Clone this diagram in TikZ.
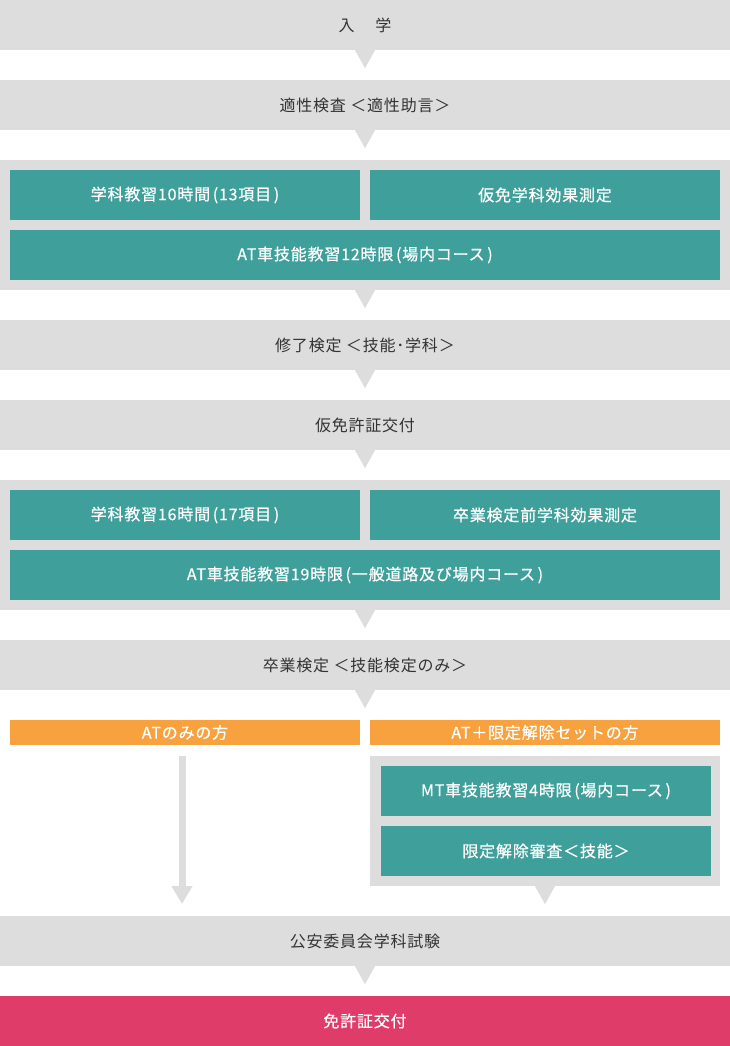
\documentclass[tikz,border=0pt]{standalone}
\usepackage{fontspec}
\setmainfont{Noto Sans CJK JP}[LetterSpace=5]
\newfontfamily\jpheavy{Noto Sans CJK JP}[LetterSpace=5,FakeBold=0.6]
\usetikzlibrary{arrows.meta}
\definecolor{bandgray}{HTML}{DDDDDD}
\definecolor{textgray}{HTML}{333333}
\definecolor{lessonteal}{HTML}{3F9F9B}
\definecolor{routeorange}{HTML}{F8A13F}
\definecolor{licensepink}{HTML}{E03C6A}
\tikzset{
  band/.style={rectangle, fill=bandgray, minimum width=730pt, minimum height=50pt, inner sep=0pt, text=textgray, font=\fontsize{16pt}{19pt}\selectfont},
  groupbox/.style={rectangle, fill=bandgray, inner sep=0pt},
  lesson/.style={rectangle, fill=lessonteal, minimum height=50pt, inner sep=0pt, text=white, font=\jpheavy\fontsize{16pt}{19pt}\selectfont},
  route/.style={rectangle, fill=routeorange, minimum width=350pt, minimum height=25pt, inner sep=0pt, text=white, font=\jpheavy\fontsize{16pt}{19pt}\selectfont},
  license/.style={band, fill=licensepink, text=white, font=\jpheavy\fontsize{16pt}{19pt}\selectfont},
  drop/.style={draw=bandgray, line width=7pt, -{Triangle[width=20pt,length=18pt]}}
}
\newcommand\downtip[1]{\fill[bandgray] ([xshift=-10pt]#1.south) -- ([xshift=10pt]#1.south) -- ([yshift=-18pt]#1.south) -- cycle;}
\begin{document}
\begin{tikzpicture}[x=1pt, y=-1pt]
\useasboundingbox (0,0) rectangle (730,1046);
\node[band] (enroll) at (365,25){入\hspace{21pt}学};
\downtip{enroll}
\node[band] (aptitude) at (365,105){適性検査 ＜適性助言＞};
\downtip{aptitude}
\node[groupbox, minimum width=730pt, minimum height=130pt] (stage1) at (365,225){};
\node[lesson, minimum width=350pt] (theory1) at (185,195){学科教習10時間\,(13項目\,)};
\node[lesson, minimum width=350pt] (test1) at (545,195){仮免学科効果測定};
\node[lesson, minimum width=710pt] (drive1) at (365,255){AT車技能教習12時限\,(場内コース\,)};
\downtip{stage1}
\node[band] (midterm) at (365,345){修了検定 ＜技能･学科＞};
\downtip{midterm}
\node[band] (permit) at (365,425){仮免許証交付};
\downtip{permit}
\node[groupbox, minimum width=730pt, minimum height=130pt] (stage2) at (365,545){};
\node[lesson, minimum width=350pt] (theory2) at (185,515){学科教習16時間\,(17項目\,)};
\node[lesson, minimum width=350pt] (test2) at (545,515){卒業検定前学科効果測定};
\node[lesson, minimum width=710pt] (drive2) at (365,575){AT車技能教習19時限\,(一般道路及び場内コース\,)};
\downtip{stage2}
\node[band] (final) at (365,665){卒業検定 ＜技能検定のみ＞};
\downtip{final}
\node[route] (atonly) at (185,732.5){ATのみの方};
\node[route] (atmt) at (545,732.5){AT＋限定解除セットの方};
\coordinate (atstart) at (182,756);
\coordinate (atdrop) at (182,904);
\draw[drop] (atstart) -- (atdrop);
\node[groupbox, minimum width=350pt, minimum height=130pt] (stage3) at (545,821){};
\node[lesson, minimum width=330pt] (drive3) at (546,791){MT車技能教習4時限\,(場内コース\,)};
\node[lesson, minimum width=330pt] (review) at (546,851){限定解除審査＜技能＞};
\downtip{stage3}
\node[band] (exam) at (365,941){公安委員会学科試験};
\downtip{exam}
\node[license] (issue) at (365,1021){免許証交付};
\end{tikzpicture}
\end{document}
